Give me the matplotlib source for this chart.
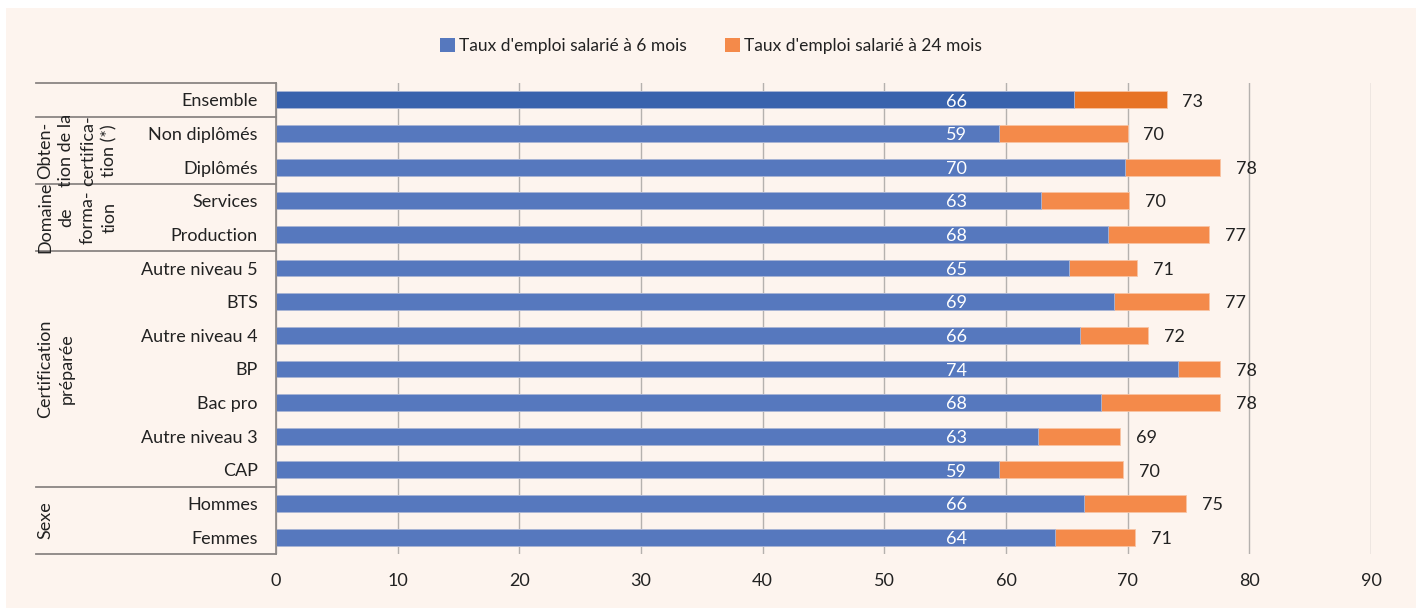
import matplotlib.pyplot as plt
import matplotlib.transforms as mtransforms
from matplotlib.patches import Rectangle, Patch

plt.rcParams['font.family'] = ['Lato', 'DejaVu Sans']

# Data (taux d'emploi salarié, %)
categories = ["Ensemble", "Non diplômés", "Diplômés", "Services", "Production",
              "Autre niveau 5", "BTS", "Autre niveau 4", "BP", "Bac pro",
              "Autre niveau 3", "CAP", "Hommes", "Femmes"]
emploi_6m = [65.6, 59.4, 69.8, 62.9, 68.4, 65.2, 68.9, 66.1, 74.1, 67.8,
             62.6, 59.4, 66.4, 64.0]
emploi_24m = [73.2, 70.0, 77.6, 70.1, 76.7, 70.8, 76.7, 71.7, 77.6, 77.6,
              69.4, 69.6, 74.8, 70.6]
groups = ["", "Obten-\ntion de la\ncertifica-\ntion (*)", "Domaine\nde\nforma-\ntion",
          "Certification\npréparée", "Sexe"]
group_sizes = [1, 2, 2, 7, 2]
xticks = [0, 10, 20, 30, 40, 50, 60, 70, 80, 90]

BG = '#fdf4ee'
BLUE, BLUE_DARK = '#5678be', '#3962ad'
ORANGE, ORANGE_DARK = '#f48a4a', '#e77325'
LINE = '#8a8583'
TXT = '#222222'
FS = 13

fig = plt.figure(figsize=(14.16, 6.08), dpi=100)
fig.patch.set_facecolor('white')
fig.patches.append(Rectangle((6/1416, 0), 1 - 6/1416, 1 - 8/608, transform=fig.transFigure,
                             facecolor=BG, edgecolor='none', zorder=-10))

ax = fig.add_axes([276/1416, 1 - 554/608, 1095/1416, 471/608])
ax.set_facecolor(BG)
ax.patch.set_alpha(0)

y = list(range(len(categories)))
c24 = [ORANGE_DARK] + [ORANGE] * (len(categories) - 1)
c6 = [BLUE_DARK] + [BLUE] * (len(categories) - 1)
ax.barh(y, emploi_24m, height=0.5, color=c24, edgecolor='#f8c3a3', linewidth=0.6, zorder=2)
ax.barh(y, emploi_6m, height=0.5, color=c6, edgecolor='#a9b9dc', linewidth=0.6, zorder=3)

for i in y:
    ax.text(55.9, i + 0.05, f"{emploi_6m[i]:.0f}", color='white', fontsize=FS,
            ha='center', va='center', zorder=4)
    ax.text(emploi_24m[i] + 1.3, i + 0.05, f"{emploi_24m[i]:.0f}", color=TXT, fontsize=FS,
            ha='left', va='center', zorder=4)

ax.set_xlim(0, 90)
ax.set_ylim(len(categories) - 0.5, -0.5)
ax.set_xticks(xticks)
ax.set_yticks(y)
ax.set_yticklabels(categories)
ax.tick_params(axis='y', length=0, pad=13, labelsize=FS, labelcolor=TXT)
ax.tick_params(axis='x', length=0, pad=14, labelsize=FS, labelcolor=TXT)
ax.grid(axis='x', color='#b5b1ae', linewidth=1.0, zorder=0)
for s in ['top', 'right', 'bottom']:
    ax.spines[s].set_visible(False)
ax.spines['left'].set_color(LINE)
ax.spines['left'].set_linewidth(1.2)
ax.spines['left'].set_zorder(5)

# left table: group separators and rotated group labels
trans = mtransforms.blended_transform_factory(ax.transAxes, ax.transData)
x_left = (36 - 276) / 1095
start = -0.5
ax.plot([x_left, 0], [start, start], transform=trans, color=LINE, lw=1.3, clip_on=False)
for name, n in zip(groups, group_sizes):
    end = start + n
    ax.plot([x_left, 0], [end, end], transform=trans, color=LINE, lw=1.3, clip_on=False)
    if name:
        ax.text(x_left + 1 / 1095, (start + end) / 2, name, transform=trans, rotation=90,
                ha='left', va='center', multialignment='center',
                fontsize=FS, color=TXT, linespacing=1.42)
    start = end

handles = [Patch(facecolor=BLUE), Patch(facecolor=ORANGE)]
fig.legend(handles, ["Taux d'emploi salarié à 6 mois", "Taux d'emploi salarié à 24 mois"],
           loc='center', bbox_to_anchor=(0.502, 1 - 46/608), ncol=2, frameon=False,
           fontsize=12.5, handlelength=0.9, handleheight=0.9, handletextpad=0.2,
           columnspacing=2.2, labelcolor=TXT)

fig.savefig('out.png', dpi=100, facecolor=fig.get_facecolor())
